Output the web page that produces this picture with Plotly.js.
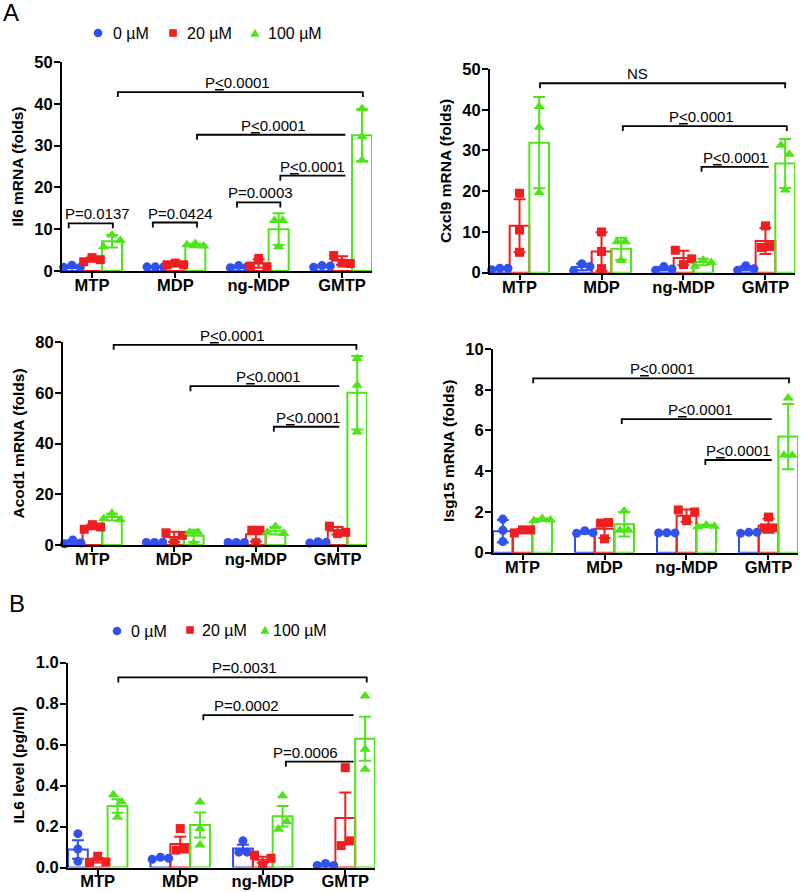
<!DOCTYPE html>
<html><head><meta charset="utf-8">
<script src="https://cdn.plot.ly/plotly-3.0.1.min.js"></script>
<style>html,body{margin:0;padding:0;background:#fff}#chart{width:805px;height:892px}</style>
</head><body><div id="chart"></div>
<script>
// ---------------- DATA ----------------
const categories = ['MTP', 'MDP', 'ng-MDP', 'GMTP'];
const doses = ['0 µM', '20 µM', '100 µM'];

// Il6 mRNA (folds) — rows: 0, 20, 100 µM
const il6Mean = [[1.0, 1.0, 1.0, 1.1], [2.7, 1.6, 1.8, 2.5], [7.1, 6.1, 10.0, 32.5]];
const il6Err  = [[0.3, 0.1, 0.3, 0.2], [0.5, 0.2, 1.0, 1.0], [1.5, 0.4, 3.8, 6.2]];
const il6Pts  = [
  [[0.9, 1.4, 0.9], [1.0, 1.0, 1.0], [0.8, 1.3, 1.0], [0.9, 1.3, 1.2]],
  [[2.2, 3.2, 2.7], [1.5, 1.9, 1.5], [1.2, 3.0, 1.0], [3.7, 1.9, 1.8]],
  [[5.8, 8.6, 7.3], [6.3, 6.6, 6.0], [12.1, 5.8, 12.1], [38.8, 32.1, 26.5]]
];
const il6Stats = [
  {x1: 0.31, x2: 3.25, y: 42.8, ends: [1, 1], tx: 1.74, text: 'P<u>&lt;</u>0.0001'},
  {x1: 1.26, x2: 3.04, y: 32.6, ends: [1, 0], tx: 2.18, text: 'P<u>&lt;</u>0.0001'},
  {x1: 2.26, x2: 3.04, y: 22.8, ends: [1, 0], tx: 2.64, text: 'P<u>&lt;</u>0.0001'},
  {x1: 1.74, x2: 2.26, y: 16.4, ends: [1, 1], tx: 2.02, text: 'P=0.0003'},
  {x1: -0.28, x2: 0.25, y: 11.4, ends: [1, 1], tx: 0.06, text: 'P=0.0137'},
  {x1: 0.73, x2: 1.26, y: 11.6, ends: [1, 1], tx: 1.06, text: 'P=0.0424'}
];

// Cxcl9 mRNA (folds)
const cxcl9Mean = [[1.0, 1.4, 1.0, 1.1], [11.5, 5.2, 3.6, 7.8], [31.9, 5.9, 2.6, 26.8]];
const cxcl9Err  = [[0.2, 0.8, 0.4, 0.5], [6.5, 4.7, 1.8, 3.2], [11.2, 2.7, 0.8, 6.0]];
const cxcl9Pts  = [
  [[0.7, 1.1, 1.1], [0.5, 2.2, 1.5], [0.6, 1.5, 0.9], [0.6, 1.7, 1.0]],
  [[19.5, 10.5, 5.0], [10.0, 5.2, 1.0], [5.5, 2.0, 3.4], [6.2, 11.5, 6.4]],
  [[40.8, 35.7, 19.6], [7.6, 3.0, 7.6], [1.6, 3.1, 2.5], [31.3, 29.1, 20.3]]
];
const cxcl9Stats = [
  {x1: 0.25, x2: 3.24, y: 46.5, ends: [1, 1], tx: 1.44, text: 'NS'},
  {x1: 1.26, x2: 3.26, y: 36.0, ends: [1, 1], tx: 2.22, text: 'P<u>&lt;</u>0.0001'},
  {x1: 2.22, x2: 3.04, y: 26.0, ends: [1, 0], tx: 2.63, text: 'P<u>&lt;</u>0.0001'}
];

// Acod1 mRNA (folds)
const acod1Mean = [[1.1, 1.0, 1.0, 1.0], [7.1, 3.2, 4.2, 5.6], [11.0, 3.6, 5.6, 60.0]];
const acod1Err  = [[0.8, 0.1, 0.1, 0.3], [0.9, 2.0, 2.8, 1.5], [1.3, 2.4, 1.5, 14.5]];
const acod1Pts  = [
  [[0.5, 2.0, 0.8], [1.0, 1.0, 1.0], [1.0, 1.0, 1.0], [0.8, 1.3, 1.0]],
  [[6.2, 8.0, 7.1], [4.8, 0.9, 3.8], [5.8, 0.9, 5.8], [7.4, 4.5, 5.0]],
  [[10.4, 12.5, 10.0], [5.0, 0.8, 5.0], [5.0, 7.3, 4.5], [73.5, 63.0, 44.5]]
];
const acod1Stats = [
  {x1: 0.26, x2: 3.23, y: 78.9, ends: [1, 1], tx: 1.72, text: 'P<u>&lt;</u>0.0001'},
  {x1: 1.20, x2: 3.02, y: 62.6, ends: [1, 0], tx: 2.15, text: 'P<u>&lt;</u>0.0001'},
  {x1: 2.22, x2: 3.02, y: 46.6, ends: [1, 0], tx: 2.64, text: 'P<u>&lt;</u>0.0001'}
];

// Isg15 mRNA (folds)
const isg15Mean = [[1.05, 1.0, 0.97, 0.98], [1.07, 1.17, 1.82, 1.33], [1.62, 1.40, 1.31, 5.70]];
const isg15Err  = [[0.55, 0.07, 0.02, 0.03], [0.09, 0.45, 0.3, 0.35], [0.06, 0.6, 0.06, 1.6]];
const isg15Pts  = [
  [[1.65, 1.1, 0.55], [0.95, 1.08, 0.98], [0.97, 0.98, 0.97], [0.95, 1.0, 1.0]],
  [[0.97, 1.12, 1.12], [1.45, 0.68, 1.48], [2.1, 1.57, 2.0], [1.22, 1.75, 1.22]],
  [[1.58, 1.68, 1.6], [1.1, 2.05, 1.1], [1.28, 1.36, 1.3], [4.78, 7.6, 4.78]]
];
const isg15Stats = [
  {x1: 0.13, x2: 3.25, y: 8.56, ends: [1, 1], tx: 1.71, text: 'P<u>&lt;</u>0.0001'},
  {x1: 1.21, x2: 3.04, y: 6.56, ends: [1, 0], tx: 2.17, text: 'P<u>&lt;</u>0.0001'},
  {x1: 2.23, x2: 3.04, y: 4.55, ends: [1, 0], tx: 2.64, text: 'P<u>&lt;</u>0.0001'}
];

// IL6 level (pg/ml)
const il6LevelMean = [[0.088, 0.045, 0.093, 0.013], [0.035, 0.115, 0.038, 0.241], [0.300, 0.207, 0.250, 0.628]];
const il6LevelErr  = [[0.045, 0.004, 0.018, 0.003], [0.010, 0.035, 0.015, 0.125], [0.033, 0.061, 0.050, 0.107]];
const il6LevelPts  = [
  [[0.165, 0.09, 0.03], [0.04, 0.05, 0.045], [0.075, 0.13, 0.075], [0.01, 0.02, 0.01]],
  [[0.025, 0.055, 0.027], [0.085, 0.19, 0.09], [0.06, 0.01, 0.045], [0.107, 0.487, 0.13]],
  [[0.355, 0.32, 0.245], [0.32, 0.19, 0.11], [0.35, 0.187, 0.224], [0.837, 0.577, 0.479]]
];
const il6LevelStats = [
  {x1: 0.25, x2: 3.26, y: 0.927, ends: [1, 1], tx: 1.78, text: 'P=0.0031'},
  {x1: 1.28, x2: 3.10, y: 0.743, ends: [1, 0], tx: 1.80, text: 'P=0.0002'},
  {x1: 2.28, x2: 3.10, y: 0.516, ends: [1, 0], tx: 2.52, text: 'P=0.0006'}
];

// ---------------- STYLE / LAYOUT ----------------
const W = 805, H = 892;
const FONT = 'Liberation Sans, Arial, Helvetica, sans-serif';
const COLORS = ['#3050f0', '#f01e1e', '#4fe31a'];
const SYMBOLS = ['circle', 'square', 'triangle-up'];
const MSIZE = [9, 9, 10];
const BW = 0.24, OFF = [-0.24, 0, 0.24], STEP = 0.1;

const panels = [
  {title: 'Il6 mRNA (folds)', mean: il6Mean, err: il6Err, pts: il6Pts, stats: il6Stats, ymax: 50, dtick: 10, fmt: '', box: [62, 372, 62, 271]},
  {title: 'Cxcl9 mRNA (folds)', mean: cxcl9Mean, err: cxcl9Err, pts: cxcl9Pts, stats: cxcl9Stats, ymax: 50, dtick: 10, fmt: '', box: [490, 795, 69, 272.7]},
  {title: 'Acod1 mRNA (folds)', mean: acod1Mean, err: acod1Err, pts: acod1Pts, stats: acod1Stats, ymax: 80, dtick: 20, fmt: '', box: [63, 367, 342, 545]},
  {title: 'Isg15 mRNA (folds)', mean: isg15Mean, err: isg15Err, pts: isg15Pts, stats: isg15Stats, ymax: 10, dtick: 2, fmt: '', box: [493, 798, 349, 552.7]},
  {title: 'IL6 level (pg/ml)', mean: il6LevelMean, err: il6LevelErr, pts: il6LevelPts, stats: il6LevelStats, ymax: 1.0, dtick: 0.2, fmt: '.1f', box: [68, 375, 662.5, 867.5]}
];

// spread overlapping replicate points horizontally (Prism-like)
function spreadOffsets(vals, thr) {
  const n = vals.length, parent = [...Array(n).keys()];
  const find = i => parent[i] === i ? i : (parent[i] = find(parent[i]));
  for (let i = 0; i < n; i++) for (let j = i + 1; j < n; j++)
    if (Math.abs(vals[i] - vals[j]) < thr) parent[find(i)] = find(j);
  const groups = {};
  for (let i = 0; i < n; i++) { const r = find(i); (groups[r] = groups[r] || []).push(i); }
  const off = new Array(n).fill(0);
  Object.values(groups).forEach(g => g.forEach((idx, k) => { off[idx] = (k - (g.length - 1) / 2) * STEP; }));
  return off;
}

const traces = [], shapes = [], annotations = [];
const layout = {
  width: W, height: H, margin: {l: 0, r: 0, t: 0, b: 0},
  paper_bgcolor: '#fff', plot_bgcolor: 'rgba(0,0,0,0)',
  showlegend: false, barmode: 'overlay',
  font: {family: FONT, color: '#000'}
};

panels.forEach((p, k) => {
  const xa = k === 0 ? 'x' : 'x' + (k + 1);
  const ya = k === 0 ? 'y' : 'y' + (k + 1);
  const [l, r, t, b] = p.box;
  layout[k === 0 ? 'xaxis' : 'xaxis' + (k + 1)] = {
    domain: [l / W, r / W], anchor: ya, range: [-0.36, 3.36],
    tickvals: categories.map((c, i) => i), ticktext: categories,
    showline: true, linecolor: '#000', linewidth: 2,
    ticks: 'outside', ticklen: 5, tickwidth: 2, tickcolor: '#000',
    ticklabelstandoff: -7,
    tickfont: {family: FONT, size: 16.5, color: '#000', weight: 700},
    showgrid: false, zeroline: false, fixedrange: true
  };
  layout[k === 0 ? 'yaxis' : 'yaxis' + (k + 1)] = {
    domain: [1 - b / H, 1 - t / H], anchor: xa, range: [0, p.ymax],
    tick0: 0, dtick: p.dtick, tickformat: p.fmt,
    showline: true, linecolor: '#000', linewidth: 2,
    ticks: 'outside', ticklen: 6, tickwidth: 2, tickcolor: '#000',
    ticklabelstandoff: -2,
    tickfont: {family: FONT, size: 16.5, color: '#000', weight: 700},
    title: {text: p.title, font: {family: FONT, size: 15.5, color: '#000', weight: 700}, standoff: 7},
    showgrid: false, zeroline: false, fixedrange: true
  };
  const thr = 9 / (b - t) * p.ymax;
  for (let s = 0; s < 3; s++) {
    traces.push({
      type: 'bar', xaxis: xa, yaxis: ya, name: doses[s],
      x: categories.map((c, i) => i + OFF[s]), y: p.mean[s], width: BW,
      marker: {color: 'rgba(255,255,255,0)', line: {color: COLORS[s], width: 2}},
      error_y: {type: 'data', array: p.err[s], visible: true, color: COLORS[s], thickness: 2, width: 6},
      hoverinfo: 'skip'
    });
  }
  for (let s = 0; s < 3; s++) {
    const xs = [], ys = [];
    p.pts[s].forEach((vals, i) => {
      const off = spreadOffsets(vals, thr);
      vals.forEach((v, j) => { xs.push(i + OFF[s] + off[j]); ys.push(v); });
    });
    traces.push({
      type: 'scatter', mode: 'markers', xaxis: xa, yaxis: ya, name: doses[s],
      x: xs, y: ys, cliponaxis: false,
      marker: {symbol: SYMBOLS[s], size: MSIZE[s], color: COLORS[s], line: {width: 0}},
      hoverinfo: 'skip'
    });
  }
  const drop = 5 / (b - t) * p.ymax;
  p.stats.forEach(st => {
    let path = st.ends[0] ? `M${st.x1},${st.y - drop} L${st.x1},${st.y}` : `M${st.x1},${st.y}`;
    path += ` L${st.x2},${st.y}`;
    if (st.ends[1]) path += ` L${st.x2},${st.y - drop}`;
    shapes.push({type: 'path', xref: xa, yref: ya, path: path, line: {color: '#000', width: 1.8}});
    annotations.push({xref: xa, yref: ya, x: st.tx, y: st.y, text: st.text, showarrow: false,
      xanchor: 'center', yanchor: 'bottom', yshift: 0, borderpad: 0,
      font: {family: FONT, size: 15, color: '#000'}});
  });
});

// legends (A and B) and panel letters
function px(x) { return x / W; }
function py(y) { return 1 - y / H; }
function legendRow(items) {
  items.forEach((it, s) => {
    const cx = it.mx, cy = it.my;
    if (s === 0) shapes.push({type: 'circle', xref: 'paper', yref: 'paper', x0: px(cx - 4.3), x1: px(cx + 4.3), y0: py(cy + 4.3), y1: py(cy - 4.3), fillcolor: COLORS[0], line: {width: 0}});
    if (s === 1) shapes.push({type: 'rect', xref: 'paper', yref: 'paper', x0: px(cx - 3.8), x1: px(cx + 3.8), y0: py(cy + 3.8), y1: py(cy - 3.8), fillcolor: COLORS[1], line: {width: 0}});
    if (s === 2) shapes.push({type: 'path', xref: 'paper', yref: 'paper', path: `M${px(cx - 4.6)},${py(cy + 3.8)} L${px(cx + 4.6)},${py(cy + 3.8)} L${px(cx)},${py(cy - 4.2)} Z`, fillcolor: COLORS[2], line: {width: 0}});
    annotations.push({xref: 'paper', yref: 'paper', x: px(it.tx), y: py(cy), text: doses[s], showarrow: false,
      xanchor: 'left', yanchor: 'middle', borderpad: 0, font: {family: FONT, size: 16, color: '#000'}});
  });
}
legendRow([{mx: 98, my: 33, tx: 112}, {mx: 173, my: 33, tx: 186}, {mx: 255, my: 33, tx: 267}]);
legendRow([{mx: 117, my: 631, tx: 130}, {mx: 190, my: 630, tx: 201}, {mx: 265, my: 630, tx: 272}]);
annotations.push({xref: 'paper', yref: 'paper', x: px(1), y: py(12), text: 'A', showarrow: false, xanchor: 'left', yanchor: 'middle', font: {family: FONT, size: 24, color: '#000'}});
annotations.push({xref: 'paper', yref: 'paper', x: px(7), y: py(603), text: 'B', showarrow: false, xanchor: 'left', yanchor: 'middle', font: {family: FONT, size: 24, color: '#000'}});

layout.shapes = shapes;
layout.annotations = annotations;
Plotly.newPlot('chart', traces, layout, {displayModeBar: false, staticPlot: true});
</script>
</body></html>
